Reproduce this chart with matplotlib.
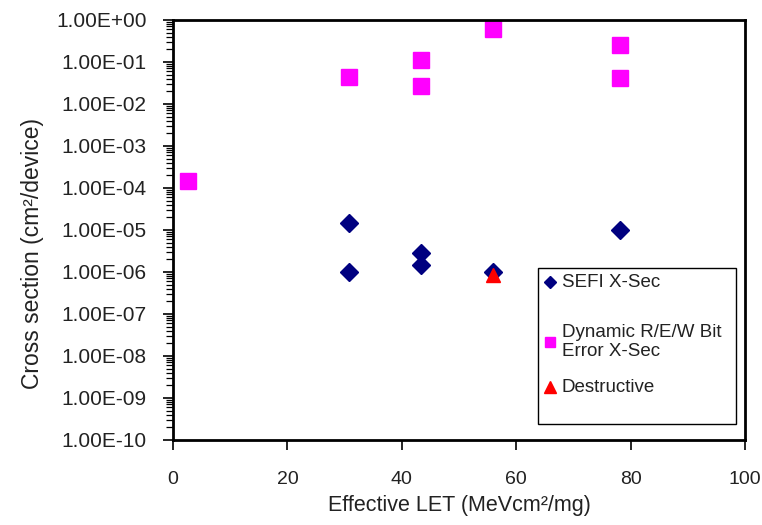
import matplotlib
matplotlib.use("Agg")
import matplotlib.pyplot as plt
from matplotlib.ticker import FuncFormatter, LogLocator, MultipleLocator, NullFormatter
from matplotlib.patches import Rectangle

plt.rcParams['font.family'] = ['Liberation Sans', 'DejaVu Sans']

# SEFI cross sections
sefi_let = [30.8, 30.8, 43.3, 43.3, 55.9, 78.2]
sefi_xs = [1.5e-5, 1.0e-6, 2.8e-6, 1.5e-6, 1.0e-6, 1.0e-5]

# dynamic R/E/W bit error cross sections
bit_let = [2.7, 30.8, 43.3, 43.3, 55.9, 78.2, 78.2]
bit_xs = [1.5e-4, 4.3e-2, 1.1e-1, 2.7e-2, 6.1e-1, 2.5e-1, 4.2e-2]

# destructive
destr_let = [55.9]
destr_xs = [8.5e-7]

labels = ['SEFI X-Sec', 'Dynamic R/E/W Bit\nError X-Sec', 'Destructive']
NAVY = '#000080'
MAGENTA = '#FF00FF'
RED = '#FF0000'
TXT = '#222222'

fig = plt.figure(figsize=(7.62, 5.25), dpi=100)
ax = fig.add_axes([0.227, 0.162, 0.751, 0.800])

ax.plot(bit_let, bit_xs, ls='none', marker='s', ms=11, color=MAGENTA, mec=MAGENTA)
ax.plot(sefi_let, sefi_xs, ls='none', marker='D', ms=9.5, color=NAVY, mec=NAVY)
ax.plot(destr_let, destr_xs, ls='none', marker='^', ms=10, color=RED, mec=RED)

ax.set_yscale('log')
ax.set_xlim(0, 100)
ax.set_ylim(1e-10, 1e0)
ax.xaxis.set_major_locator(MultipleLocator(20))
ax.yaxis.set_major_locator(LogLocator(base=10, numticks=20))
ax.yaxis.set_minor_locator(LogLocator(base=10, subs=range(2, 10), numticks=200))
ax.yaxis.set_minor_formatter(NullFormatter())
ax.yaxis.set_major_formatter(FuncFormatter(lambda v, p: f"{v:.2E}"))

ax.tick_params(axis='y', which='major', direction='out', length=7, width=1.2,
               pad=12, labelsize=15, labelcolor=TXT)
ax.tick_params(axis='y', which='minor', direction='out', length=5, width=0.9)
ax.tick_params(axis='x', which='major', direction='out', length=7, width=1.2,
               pad=15, labelsize=14, labelcolor=TXT)
for s in ax.spines.values():
    s.set_linewidth(2)

ax.set_xlabel('Effective LET (MeVcm²/mg)', fontsize=15.5, color=TXT)
ax.set_ylabel('Cross section (cm²/device)', fontsize=16.5, color=TXT)
ax.xaxis.set_label_coords(0.5, -0.13)
ax.yaxis.set_label_coords(-0.225, 0.445)

# legend box drawn like the original
ax.add_patch(Rectangle((0.638, 0.038), 0.346, 0.372, transform=ax.transAxes,
                       fill=False, ec='black', lw=1, zorder=5))
leg_y = [0.376, 0.233, 0.126]
leg_mk = [('D', 6, NAVY), ('s', 7.5, MAGENTA), ('^', 9, RED)]
for yy, (m, ms, c), lab in zip(leg_y, leg_mk, labels):
    ax.plot([0.659], [yy], transform=ax.transAxes, marker=m, ms=ms,
            color=c, mec=c, ls='none', clip_on=False, zorder=6)
    ax.text(0.679, yy, lab, transform=ax.transAxes, va='center', ha='left',
            fontsize=13.5, color=TXT, linespacing=1.1, zorder=6)

fig.savefig('out.png', dpi=100)
